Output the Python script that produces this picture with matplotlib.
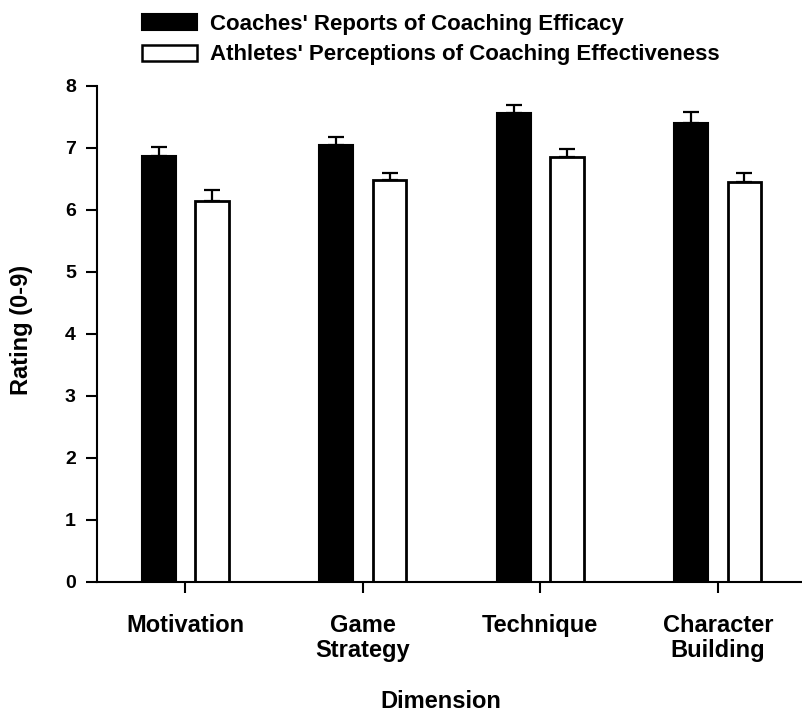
import numpy as np
import matplotlib
matplotlib.use("Agg")
import matplotlib.pyplot as plt
from matplotlib.patches import Patch

plt.rcParams['font.family'] = ['Liberation Sans', 'DejaVu Sans']
plt.rcParams['font.weight'] = 'bold'

# data
dimensions = ["Motivation", "Game\nStrategy", "Technique", "Character\nBuilding"]
coaches = [6.87, 7.05, 7.57, 7.41]
coaches_err = [0.15, 0.12, 0.12, 0.17]
athletes = [6.15, 6.48, 6.85, 6.45]
athletes_err = [0.17, 0.12, 0.13, 0.15]
series_labels = ["Coaches' Reports of Coaching Efficacy",
                 "Athletes' Perceptions of Coaching Effectiveness"]

fig = plt.figure(figsize=(8.03, 7.16), dpi=100)
ax = fig.add_axes([96.7 / 803, 134 / 716, 1 - 96.7 / 803, 496 / 716])

x = np.arange(len(dimensions))
w = 0.19
err_kw = dict(ecolor="black", elinewidth=1.6, capsize=6, capthick=1.6)

ax.bar(x - 0.15, coaches, w, color="black", edgecolor="black", linewidth=1.5,
       yerr=[np.zeros(len(x)), coaches_err], error_kw=err_kw)
ax.bar(x + 0.15, athletes, w, color="white", edgecolor="black", linewidth=2.0,
       yerr=[np.zeros(len(x)), athletes_err], error_kw=err_kw)

ax.set_xlim(-0.5, 3.48)
ax.set_ylim(0, 8)
ax.set_yticks(range(0, 9))
ax.set_xticks(x)
ax.set_xticklabels(dimensions, fontsize=17, fontweight="bold", va="top")
for lab in ax.get_xticklabels():
    lab.set_linespacing(1.1)
ax.tick_params(axis="x", length=8, width=1.5, pad=15)
ax.tick_params(axis="y", length=8, width=1.5, labelsize=14, pad=7)
for lab in ax.get_yticklabels():
    lab.set_fontweight("bold")

ax.spines["top"].set_visible(False)
ax.spines["right"].set_visible(False)
ax.spines["left"].set_linewidth(1.5)
ax.spines["bottom"].set_linewidth(1.5)

fig.text(22 / 803, (716 - 330) / 716, "Rating (0-9)", rotation=90,
         ha="center", va="center", fontsize=17, fontweight="bold")
fig.text(441 / 803, (716 - 702) / 716, "Dimension",
         ha="center", va="center", fontsize=17, fontweight="bold")

handles = [Patch(facecolor="black", edgecolor="black", linewidth=1.5),
           Patch(facecolor="white", edgecolor="black", linewidth=1.8)]
fig.legend(handles, series_labels, loc="upper left",
           bbox_to_anchor=(122 / 803, 1.0 + 6 / 716), frameon=False,
           handlelength=2.48, handleheight=0.74, handletextpad=0.6,
           labelspacing=0.42, prop={"weight": "bold", "size": 16})

fig.savefig("out.png", dpi=100)
